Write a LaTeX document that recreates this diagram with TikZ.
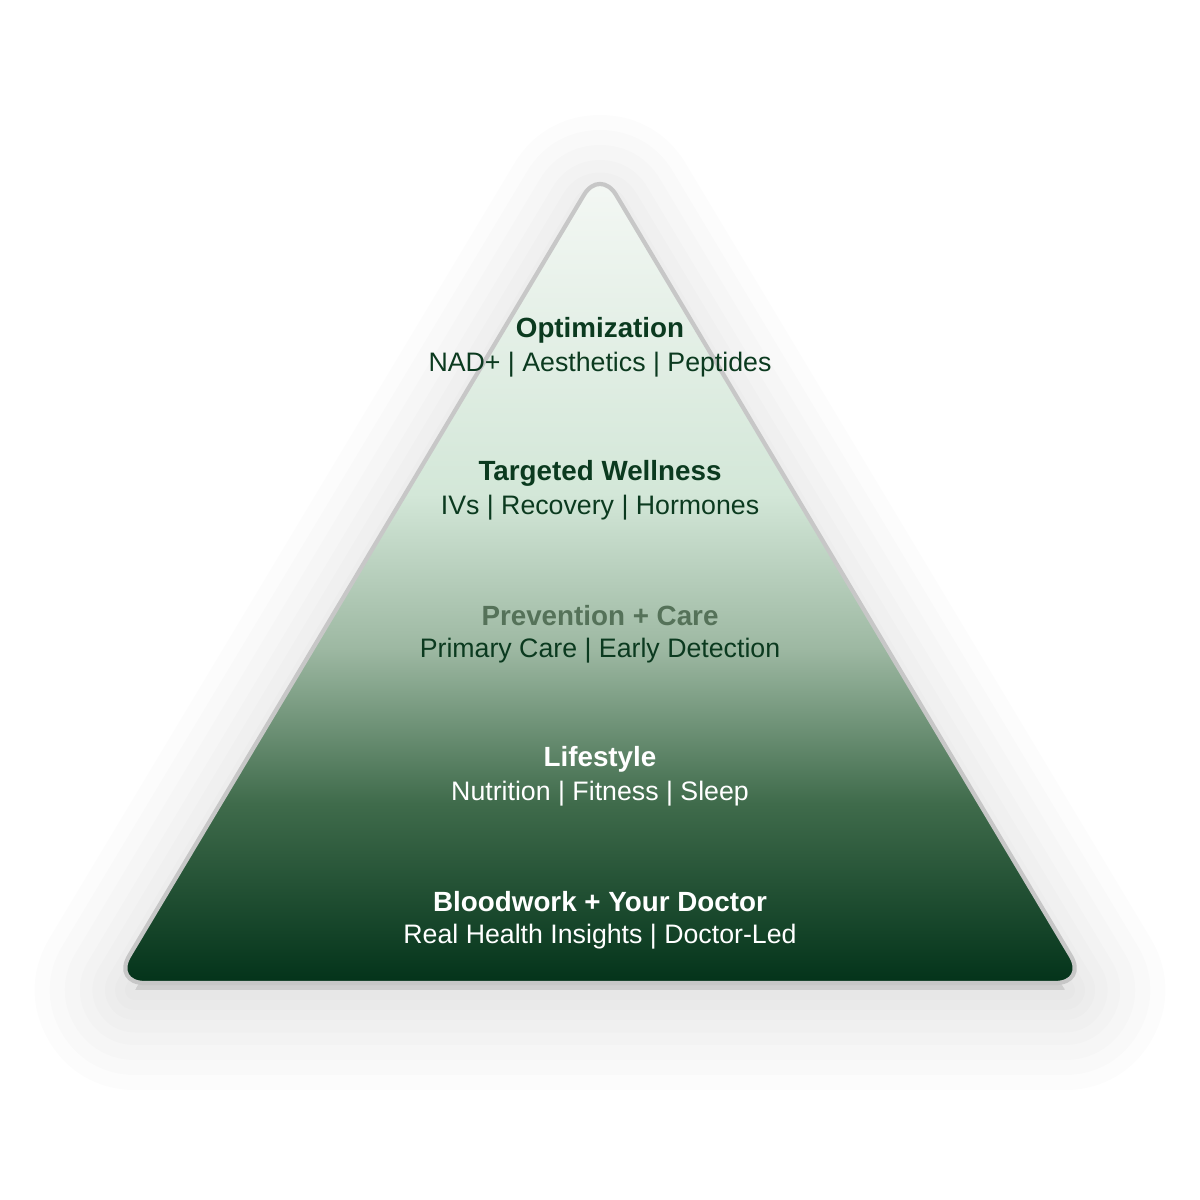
\documentclass[tikz,border=0pt]{standalone}
\usepackage{fontspec}
\setmainfont{Liberation Sans}
\definecolor{c0}{HTML}{03331A}
\definecolor{c1}{HTML}{3F6B4B}
\definecolor{c2}{HTML}{9DB8A2}
\definecolor{c3}{HTML}{D3E7D8}
\definecolor{c4}{HTML}{F5F8F5}
\definecolor{dk}{HTML}{0B3A1F}
\definecolor{gr}{HTML}{557259}
\pgfdeclareverticalshading{pyr}{100bp}{color(0bp)=(c0); color(25bp)=(c0); color(36bp)=(c1); color(45.5bp)=(c2); color(55bp)=(c3); color(75bp)=(c4); color(100bp)=(c4)}
\tikzset{title/.style={font=\bfseries\fontsize{7.9}{10}\selectfont,inner sep=0pt},
sub/.style={font=\fontsize{7.6}{10}\selectfont,inner sep=0pt}}
\begin{document}
\begin{tikzpicture}[x=0.01cm,y=-0.01cm]
\useasboundingbox (0,0) rectangle (1200,1200);
\fill[white] (0,0) rectangle (1200,1200);
\foreach \w in {200,170,140,110,85,60,40,20}{
 \draw[line width=\w*0.01cm,black,opacity=0.012,line join=round,fill=black,fill opacity=0.012] (600,215) -- (1065,990) -- (135,990) -- cycle;}
\path[shading=pyr,draw=black!22,line width=1.2pt,rounded corners=9pt] (600,168) -- (1087,983) -- (113,983) -- cycle;
\node[title,text=dk] (t1) at (600,330) {Optimization};
\node[sub,text=dk] (s1) at (600,365) {NAD+ | Aesthetics | Peptides};
\node[title,text=dk] (t2) at (600,473) {Targeted Wellness};
\node[sub,text=dk] (s2) at (600,508) {IVs | Recovery | Hormones};
\node[title,text=gr] (t3) at (600,616) {Prevention + Care};
\node[sub,text=dk] (s3) at (600,651) {Primary Care | Early Detection};
\node[title,text=white] (t4) at (600,759) {Lifestyle};
\node[sub,text=white] (s4) at (600,794) {Nutrition | Fitness | Sleep};
\node[title,text=white] (t5) at (600,902) {Bloodwork + Your Doctor};
\node[sub,text=white] (s5) at (600,937) {Real Health Insights | Doctor-Led};
\end{tikzpicture}
\end{document}
